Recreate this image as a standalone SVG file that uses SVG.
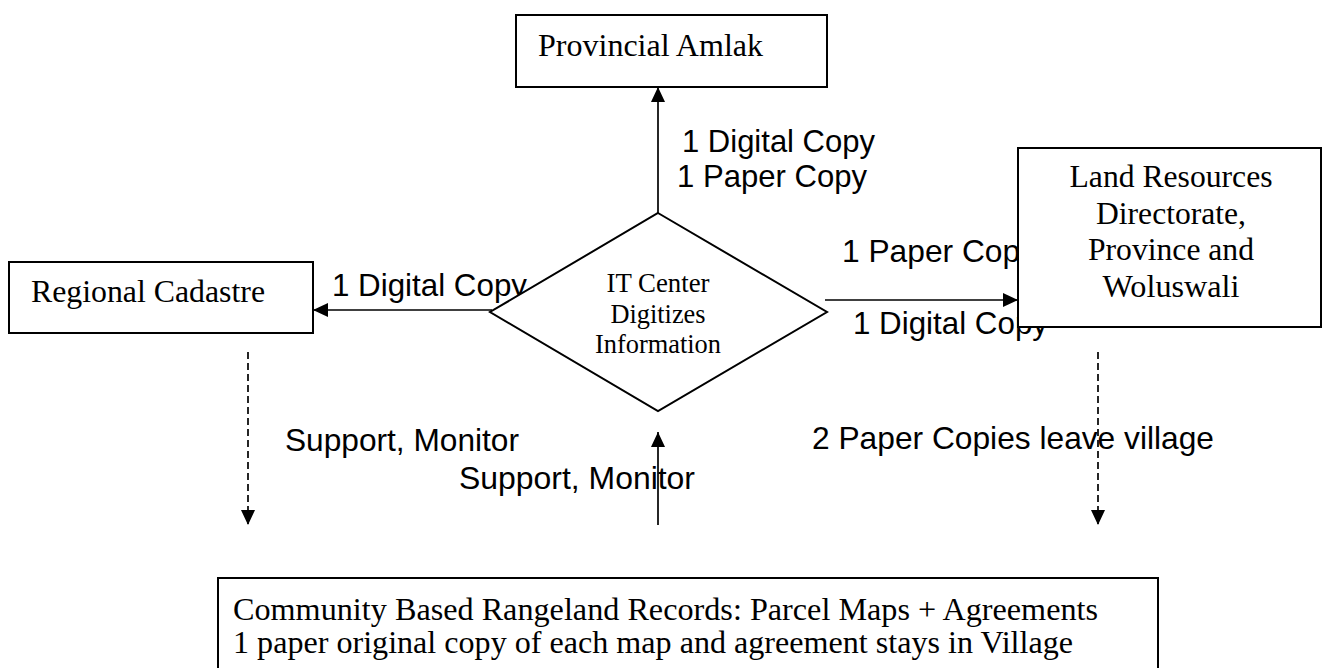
<svg xmlns="http://www.w3.org/2000/svg" width="1323" height="668" viewBox="0 0 1323 668">
<defs>
<marker id="ah" markerUnits="userSpaceOnUse" markerWidth="15" markerHeight="14" refX="15" refY="7" orient="auto">
<path d="M0,0 L15,7 L0,14 z" fill="#000"/>
</marker>
<style>
.box{fill:#fff;stroke:#000;stroke-width:2}
.serif{font-family:"Liberation Serif","Times New Roman",serif;font-size:32px;fill:#000}
.dia{font-family:"Liberation Serif","Times New Roman",serif;font-size:26.7px;fill:#000}
.sans{font-family:"Liberation Sans",Arial,sans-serif;font-size:31.7px;fill:#000}
.ln{fill:none;stroke:#000;stroke-width:1.7}
.dash{fill:none;stroke:#000;stroke-width:1.7;stroke-dasharray:7 4}
</style>
</defs>
<rect width="1323" height="668" fill="#fff"/>
<g id="labels">
<text class="sans" x="682" y="152" textLength="193" lengthAdjust="spacingAndGlyphs">1 Digital Copy</text>
<text class="sans" x="677" y="187" textLength="190" lengthAdjust="spacingAndGlyphs">1 Paper Copy</text>
<text class="sans" x="332" y="296" textLength="195" lengthAdjust="spacingAndGlyphs">1 Digital Copy</text>
<text class="sans" x="842" y="262" textLength="194" lengthAdjust="spacingAndGlyphs">1 Paper Copy</text>
<text class="sans" x="853" y="334" textLength="195" lengthAdjust="spacingAndGlyphs">1 Digital Copy</text>
<text class="sans" x="285" y="451" textLength="234" lengthAdjust="spacingAndGlyphs">Support, Monitor</text>
<text class="sans" x="459" y="489" textLength="236" lengthAdjust="spacingAndGlyphs">Support, Monitor</text>
<text class="sans" x="812" y="449" textLength="402" lengthAdjust="spacingAndGlyphs">2 Paper Copies leave village</text>
</g>
<g id="connectors">
<line class="ln" x1="658" y1="213" x2="658" y2="87" marker-end="url(#ah)"/>
<line class="ln" x1="492" y1="310" x2="313" y2="310" marker-end="url(#ah)"/>
<line class="ln" x1="825" y1="300" x2="1018" y2="300" marker-end="url(#ah)"/>
<line class="ln" x1="658" y1="525" x2="658" y2="432" marker-end="url(#ah)"/>
<line class="dash" x1="248" y1="352" x2="248" y2="525" marker-end="url(#ah)"/>
<line class="dash" x1="1098" y1="352" x2="1098" y2="525" marker-end="url(#ah)"/>
</g>
<g id="provincial-amlak">
<rect class="box" x="516" y="15" width="311" height="72"/>
<text class="serif" x="538" y="56" textLength="225" lengthAdjust="spacingAndGlyphs">Provincial Amlak</text>
</g>
<g id="regional-cadastre">
<rect class="box" x="9" y="262" width="304" height="71"/>
<text class="serif" x="31" y="302" textLength="234" lengthAdjust="spacingAndGlyphs">Regional Cadastre</text>
</g>
<g id="it-center">
<polygon class="box" points="658,213 827,312 658,411 490,312"/>
<text class="dia" x="658" y="292" text-anchor="middle" textLength="103" lengthAdjust="spacingAndGlyphs">IT Center</text>
<text class="dia" x="658" y="322.5" text-anchor="middle" textLength="95" lengthAdjust="spacingAndGlyphs">Digitizes</text>
<text class="dia" x="658" y="353" text-anchor="middle" textLength="126" lengthAdjust="spacingAndGlyphs">Information</text>
</g>
<g id="land-resources">
<rect class="box" x="1018" y="148" width="303" height="179"/>
<text class="serif" x="1171" y="187" text-anchor="middle" textLength="203" lengthAdjust="spacingAndGlyphs">Land Resources</text>
<text class="serif" x="1171" y="223.5" text-anchor="middle" textLength="150" lengthAdjust="spacingAndGlyphs">Directorate,</text>
<text class="serif" x="1171" y="260" text-anchor="middle" textLength="166" lengthAdjust="spacingAndGlyphs">Province and</text>
<text class="serif" x="1171" y="297" text-anchor="middle" textLength="137" lengthAdjust="spacingAndGlyphs">Woluswali</text>
</g>
<g id="community-records">
<rect class="box" x="218" y="578" width="940" height="100"/>
<text class="serif" x="233" y="620" textLength="865" lengthAdjust="spacingAndGlyphs">Community Based Rangeland Records: Parcel Maps + Agreements</text>
<text class="serif" x="233" y="653" textLength="840" lengthAdjust="spacingAndGlyphs">1 paper original copy of each map and agreement stays in Village</text>
</g>
</svg>
